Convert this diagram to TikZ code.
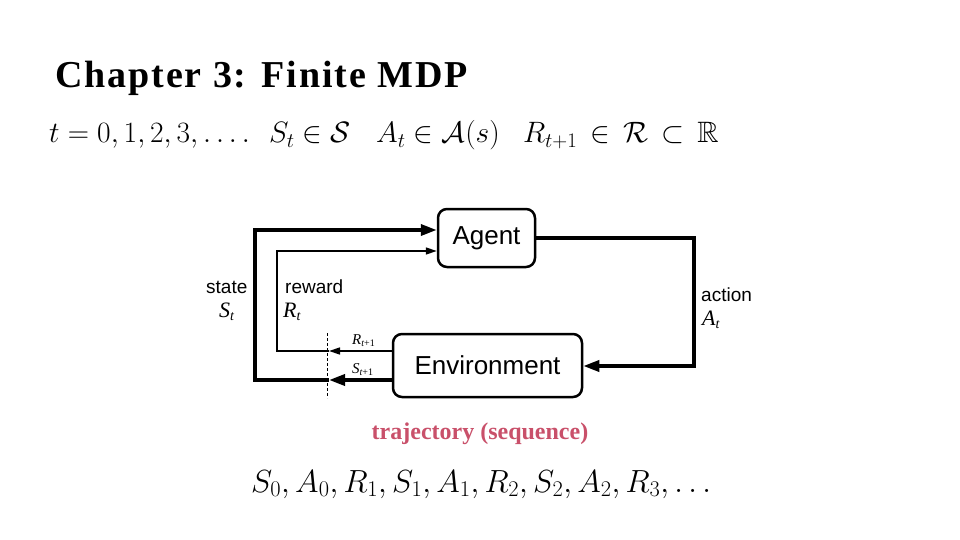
\RequirePackage{fix-cm}
\documentclass[tikz,border=0pt]{standalone}
\usepackage{amsmath,amssymb}
\usepackage{fontspec}
\setmainfont{Liberation Serif}
\setsansfont{Liberation Sans}
\usetikzlibrary{arrows.meta}
\definecolor{trajred}{HTML}{C9506A}
\begin{document}
\begin{tikzpicture}[x=1pt,y=-1pt,
  box/.style={draw,line width=2.5pt,rounded corners=9pt,font=\sffamily\fontsize{26}{28}\selectfont,inner sep=0pt},
  thickline/.style={line width=3.5pt},
  thinline/.style={line width=1.4pt},
  bigarrow/.style={-{Triangle[length=16pt,width=11pt]}},
  smallarrow/.style={-{Triangle[length=11pt,width=7pt]}},
  lbl/.style={font=\sffamily\fontsize{19}{21}\selectfont,inner sep=0pt,anchor=base west},
  var/.style={font=\itshape\fontsize{22}{24}\selectfont,inner sep=0pt,anchor=base west},
  svar/.style={font=\itshape\fontsize{15}{17}\selectfont,inner sep=0pt,anchor=base west},
  mathtxt/.style={inner sep=0pt,anchor=base west,font=\fontsize{29.5}{31}\selectfont}]
\useasboundingbox (0,0) rectangle (960,540);
\fill[white] (0,0) rectangle (960,540);
% title
\node[inner sep=0pt,anchor=base west,font=\bfseries\fontsize{38}{40}\selectfont\addfontfeature{LetterSpace=5}] (title) at (55,88) {Chapter 3: Finite MDP};
\node[mathtxt] (defs1) at (49,143) {$t=0,1,2,3,\ldots.$};
\node[mathtxt] (defs2) at (269,143) {$S_t\in\mathcal{S}$};
\node[mathtxt] (defs3) at (376,143) {$A_t\in\mathcal{A}(s)$};
\node[mathtxt] (defs4) at (523,143) {$R_{t+1}\,\in\,\mathcal{R}\,\subset\,\mathbb{R}$};
% boxes
\node[box,minimum width=97pt,minimum height=58pt] (agent) at (486.5,238) {Agent};
\node[box,minimum width=189pt,minimum height=63pt] (env) at (487.5,365.5) {Environment};
% coordinates
\coordinate (dashtop) at (327,333);
\coordinate (dashbot) at (327,398);
\coordinate (rcut) at (329,351);
\coordinate (scut) at (329,380);
\coordinate (rcorner1) at (277,351);
\coordinate (rcorner2) at (277,251);
\coordinate (scorner1) at (255,380);
\coordinate (scorner2) at (255,230);
\coordinate (acorner1) at (694,238);
\coordinate (acorner2) at (694,366);
% action
\draw[thickline,bigarrow] (agent.east) -- (acorner1) -- (acorner2) -- (env.east |- acorner2);
% state
\draw[thickline,bigarrow] (env.west |- scut) -- (scut);
\draw[thickline,bigarrow] (scut) -- (scorner1) -- (scorner2) -- (agent.west |- scorner2);
% reward
\draw[thinline,smallarrow] (env.west |- rcut) -- (rcut);
\draw[thinline,smallarrow] (rcut) -- (rcorner1) -- (rcorner2) -- (agent.west |- rcorner2);
% dashed
\draw[line width=0.8pt,dash pattern=on 3pt off 2pt] (dashtop) -- (dashbot);
% labels
\node[lbl] (lstate) at (206,293) {state};
\node[var] (lSt) at (219,317) {S\textsubscript{\fontsize{14}{14}\selectfont t}};
\node[lbl] (lreward) at (285,293) {reward};
\node[var] (lRt) at (283,317) {R\textsubscript{\fontsize{14}{14}\selectfont t}};
\node[lbl] (laction) at (701,301) {action};
\node[var] (lAt) at (702,325) {A\textsubscript{\fontsize{14}{14}\selectfont t}};
\node[svar] (lR1) at (352,344) {R\textsubscript{\fontsize{10}{10}\selectfont t\upshape +1}};
\node[svar] (lS1) at (352,373) {S\textsubscript{\fontsize{10}{10}\selectfont t\upshape +1}};
% trajectory
\node[inner sep=0pt,anchor=base,font=\bfseries\fontsize{24}{26}\selectfont,text=trajred] (traj) at (480,439) {trajectory (sequence)};
\node[inner sep=0pt,anchor=base west,font=\fontsize{32}{34}\selectfont] (seq) at (251,492) {$S_0,A_0,R_1,S_1,A_1,R_2,S_2,A_2,R_3,\ldots$};
\end{tikzpicture}
\end{document}
